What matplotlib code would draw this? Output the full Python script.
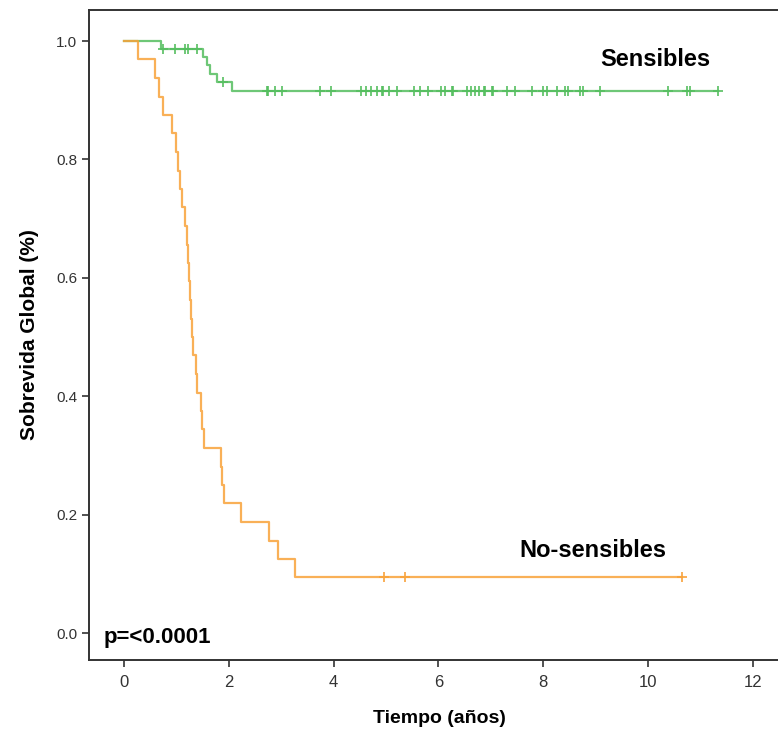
import numpy as np
import matplotlib
matplotlib.use('Agg')
import matplotlib.pyplot as plt

# Sensibles: step times / survival, plus censor marks
sens_t = [0.0, 0.71, 1.51, 1.58, 1.64, 1.77, 2.06]
sens_s = [1.0, 0.987, 0.973, 0.959, 0.945, 0.931, 0.916]
sens_cens = [0.74, 0.97, 1.16, 1.22, 1.39, 1.89, 2.73, 2.75, 2.88, 3.01,
             3.73, 3.94, 4.52, 4.62, 4.71, 4.82, 4.92, 4.95, 5.06, 5.20,
             5.54, 5.65, 5.81, 6.05, 6.13, 6.25, 6.28, 6.54, 6.62, 6.69,
             6.77, 6.86, 6.89, 7.02, 7.05, 7.30, 7.46, 7.78, 8.00, 8.07,
             8.26, 8.42, 8.48, 8.70, 8.75, 9.08, 10.39, 10.74, 10.80, 11.34]

# No-sensibles
nos_t = [0.0, 0.27, 0.59, 0.67, 0.75, 0.92, 1.00, 1.02, 1.07, 1.11,
         1.16, 1.21, 1.22, 1.23, 1.25, 1.28, 1.30, 1.32, 1.37, 1.40,
         1.46, 1.48, 1.53, 1.84, 1.86, 1.90, 2.23, 2.77, 2.94, 3.27]
nos_s = [1.0, 0.969, 0.938, 0.906, 0.875, 0.844, 0.813, 0.781, 0.75, 0.719,
         0.688, 0.656, 0.625, 0.594, 0.563, 0.531, 0.5, 0.469, 0.438, 0.406,
         0.375, 0.344, 0.313, 0.281, 0.25, 0.219, 0.188, 0.156, 0.125, 0.094]
nos_cens = [4.97, 5.36, 10.64]

xticks = [0, 2, 4, 6, 8, 10, 12]
yticks = [0.0, 0.2, 0.4, 0.6, 0.8, 1.0]

GREEN = '#55be5f'
ORANGE = '#f8a23a'
narrow = ['Liberation Sans Narrow', 'Liberation Sans', 'DejaVu Sans']
arial = ['Liberation Sans', 'DejaVu Sans']


def km_line(ax, t, s, cens, color):
    end = max(cens[-1], t[-1])
    tt = list(t) + [end]
    ss = list(s) + [s[-1]]
    ax.step(tt, ss, where='post', color=color, lw=1.6, alpha=0.85)
    cs = [ss[np.searchsorted(tt, c, side='right') - 1] for c in cens]
    ax.plot(cens, cs, ls='none', marker='+', ms=7, mew=1.4, color=color, alpha=0.85)


fig = plt.figure(figsize=(7.78, 7.36), dpi=100)
ax = fig.add_axes([89 / 778, 76 / 736, 700 / 778, 650 / 736])

km_line(ax, sens_t, sens_s, sens_cens, GREEN)
km_line(ax, nos_t, nos_s, nos_cens, ORANGE)

ax.set_xlim(-0.67, (789 - 124) / 52.4)
ax.set_ylim(-0.0456, 1.0524)
ax.set_xticks(xticks)
ax.set_yticks(yticks)
ax.set_xticklabels([str(v) for v in xticks], family=narrow, fontsize=12)
ax.set_yticklabels(['%.1f' % v for v in yticks], family=arial, fontsize=11)
ax.tick_params(direction='out', length=5, width=1.2, colors='#333333', labelcolor='#333333')
ax.tick_params(axis='x', pad=6)
for sp in ax.spines.values():
    sp.set_linewidth(1.4)
    sp.set_color('#333333')

ax.set_xlabel('Tiempo (años)', family=arial, fontsize=14, fontweight='bold', labelpad=14)
ax.set_ylabel('Sobrevida Global (%)', family=narrow, fontsize=15, fontweight='bold', labelpad=12)

ax.text(10.13, 0.968, 'Sensibles', family=narrow, fontsize=17, fontweight='bold',
        ha='center', va='center')
ax.text(8.95, 0.139, 'No-sensibles', family=narrow, fontsize=17, fontweight='bold',
        ha='center', va='center')
ax.text(-0.40, -0.007, 'p=<0.0001', family=narrow, fontsize=16, fontweight='bold',
        ha='left', va='center')

fig.savefig('out.png', dpi=100)
